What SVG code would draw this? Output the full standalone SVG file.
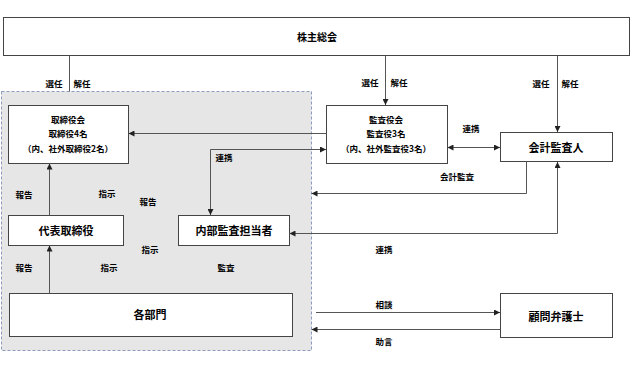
<svg xmlns="http://www.w3.org/2000/svg" width="633" height="368" viewBox="0 0 633 368">
<style>
.box{fill:#fff;stroke:#444;stroke-width:1}
.t{font-family:"Noto Sans CJK JP","Noto Sans",sans-serif;font-weight:bold;fill:#000;text-anchor:middle;dominant-baseline:central}
.big{font-size:11px}
.mid{font-size:10px}
.sm{font-size:8.5px}
.ln{fill:none;stroke:#555;stroke-width:1}
</style>
<defs>
<marker id="ah" markerUnits="userSpaceOnUse" markerWidth="6" markerHeight="6" viewBox="0 0 6 6" refX="6" refY="3" orient="auto-start-reverse">
<path d="M0,0 L6,3 L0,6 Z" fill="#222"/>
</marker>
</defs>
<rect width="633" height="368" fill="#fff"/>
<g id="group-frame">
<rect x="1.5" y="91.5" width="310" height="259" fill="#e6e6e6" stroke="#8a9bbd" stroke-width="1" stroke-dasharray="3,2"/>
</g>
<g id="n-shareholders"><rect class="box" x="3.5" y="17.5" width="626" height="38"/><text class="t mid" x="317" y="36">株主総会</text></g>
<g id="n-board"><rect class="box" x="8.5" y="105.5" width="120" height="58"/>
<text class="t sm" x="68" y="119">取締役会</text><text class="t sm" x="68" y="133">取締役4名</text><text class="t sm" x="68" y="148">（内、社外取締役2名）</text></g>
<g id="n-auditboard"><rect class="box" x="326.5" y="105.5" width="121" height="58"/>
<text class="t sm" x="386" y="119">監査役会</text><text class="t sm" x="386" y="133">監査役3名</text><text class="t sm" x="386" y="148">（内、社外監査役3名）</text></g>
<g id="n-accountant"><rect class="box" x="500.5" y="132.5" width="112" height="29"/><text class="t big" x="556" y="147">会計監査人</text></g>
<g id="n-ceo"><rect class="box" x="8.5" y="215.5" width="115" height="30"/><text class="t big" x="66" y="230">代表取締役</text></g>
<g id="n-internal"><rect class="box" x="178.5" y="215.5" width="111" height="30"/><text class="t big" x="234" y="230">内部監査担当者</text></g>
<g id="n-depts"><rect class="box" x="9.5" y="293.5" width="283" height="43"/><text class="t big" x="150" y="314">各部門</text></g>
<g id="n-lawyer"><rect class="box" x="500.5" y="293.5" width="112" height="44"/><text class="t big" x="556" y="316">顧問弁護士</text></g>
<g id="connectors">
<path class="ln" d="M69.5,55.5 V91.5"/>
<path class="ln" d="M385.5,55.5 V105" marker-end="url(#ah)"/>
<path class="ln" d="M557.5,55.5 V132" marker-end="url(#ah)"/>
<path class="ln" d="M326.5,133.5 H128.5" marker-end="url(#ah)"/>
<path class="ln" d="M326,149.5 H210.5 V215" marker-start="url(#ah)" marker-end="url(#ah)"/>
<path class="ln" d="M447.5,147.5 H500" marker-start="url(#ah)" marker-end="url(#ah)"/>
<path class="ln" d="M526.5,161.5 V193.5 H311.5" marker-end="url(#ah)"/>
<path class="ln" d="M557.5,162 V233.5 H289.5" marker-start="url(#ah)" marker-end="url(#ah)"/>
<path class="ln" d="M49.5,215.5 V163.5" marker-end="url(#ah)"/>
<path class="ln" d="M49.5,293.5 V245.5" marker-end="url(#ah)"/>
<path class="ln" d="M316,312.5 H500" marker-end="url(#ah)"/>
<path class="ln" d="M500.5,329.5 H311.5" marker-end="url(#ah)"/>
</g>
<g id="labels">
<text class="t sm" x="54" y="83">選任</text><text class="t sm" x="82" y="83">解任</text>
<text class="t sm" x="370" y="82">選任</text><text class="t sm" x="399" y="82">解任</text>
<text class="t sm" x="541" y="83">選任</text><text class="t sm" x="570" y="83">解任</text>
<text class="t sm" x="471" y="128">連携</text>
<text class="t sm" x="224" y="157">連携</text>
<text class="t sm" x="457" y="176">会計監査</text>
<text class="t sm" x="24" y="194">報告</text>
<text class="t sm" x="107" y="193">指示</text>
<text class="t sm" x="148" y="201">報告</text>
<text class="t sm" x="150" y="249">指示</text>
<text class="t sm" x="384" y="249">連携</text>
<text class="t sm" x="24" y="267">報告</text>
<text class="t sm" x="109" y="267">指示</text>
<text class="t sm" x="226" y="267">監査</text>
<text class="t sm" x="384" y="304">相談</text>
<text class="t sm" x="384" y="341">助言</text>
</g>
</svg>
